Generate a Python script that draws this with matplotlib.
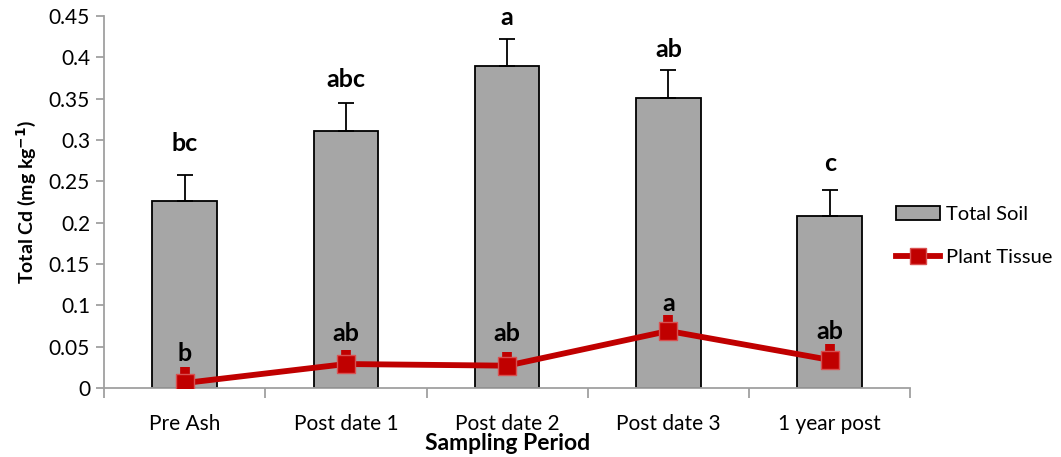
import numpy as np
import matplotlib.pyplot as plt
from matplotlib.patches import Patch
from matplotlib.lines import Line2D

plt.rcParams['font.family'] = ['Lato', 'DejaVu Sans']

periods = ['Pre Ash', 'Post date 1', 'Post date 2', 'Post date 3', '1 year post']
soil = [0.226, 0.311, 0.389, 0.351, 0.208]
soil_err = [0.032, 0.034, 0.033, 0.034, 0.032]
soil_letters = ['bc', 'abc', 'a', 'ab', 'c']
soil_letter_y = [0.296, 0.373, 0.448, 0.410, 0.271]
tissue = [0.006, 0.029, 0.027, 0.069, 0.034]
tissue_err = [0.019, 0.017, 0.017, 0.019, 0.019]
tissue_letters = ['b', 'ab', 'ab', 'a', 'ab']
tissue_letter_y = [0.042, 0.066, 0.066, 0.102, 0.068]

red = '#C00000'
axis_grey = '#A0A0A0'

fig = plt.figure(figsize=(10.61, 4.57), dpi=100)
ax = fig.add_axes([0.098, 0.151, 0.760, 0.814])

x = np.arange(len(periods))
ax.bar(x, soil, width=0.4, color='#A6A6A6', edgecolor='black', linewidth=1.3,
       yerr=[np.zeros(len(soil)), soil_err],
       error_kw=dict(ecolor='black', elinewidth=1.3, capsize=6, capthick=1.3),
       zorder=2)

ax.errorbar(x, tissue, yerr=[np.zeros(len(tissue)), tissue_err], fmt='none',
            ecolor=red, elinewidth=7, capsize=0, zorder=3)
ax.plot(x, tissue, color=red, linewidth=4.2, marker='s', markersize=12.5,
        markerfacecolor=red, markeredgecolor='#D95050', markeredgewidth=1,
        zorder=4)

for i in range(len(periods)):
    ax.text(x[i], soil_letter_y[i], soil_letters[i], ha='center', va='center',
            fontsize=18, fontweight='bold', clip_on=False)
    ax.text(x[i], tissue_letter_y[i], tissue_letters[i], ha='center', va='center',
            fontsize=18, fontweight='bold')

ax.set_xlim(-0.5, len(periods) - 0.5)
ax.set_ylim(0, 0.45)
ax.set_yticks(np.arange(0, 0.451, 0.05))
ax.set_yticklabels(['0', '0.05', '0.1', '0.15', '0.2', '0.25', '0.3', '0.35', '0.4', '0.45'])
ax.set_xticks(x)
ax.set_xticklabels(periods)
ax.set_xticks(np.arange(-0.5, len(periods)), minor=True)
ax.tick_params(axis='x', which='major', length=0, pad=19, labelsize=15)
ax.tick_params(axis='x', which='minor', length=7, color=axis_grey, width=1.3)
ax.tick_params(axis='y', length=6, color=axis_grey, width=1.3, labelsize=15, pad=4)

for s in ['top', 'right']:
    ax.spines[s].set_visible(False)
for s in ['left', 'bottom']:
    ax.spines[s].set_color(axis_grey)
    ax.spines[s].set_linewidth(1.3)

ax.set_xlabel('Sampling Period', fontsize=16.5, fontweight='bold', labelpad=-1)
ax.set_ylabel('Total Cd (mg kg$^{\\mathbf{-1}}$)', fontsize=14, fontweight='bold', labelpad=8)

handles = [Patch(facecolor='#A6A6A6', edgecolor='black', linewidth=1.3, label='Total Soil'),
           Line2D([0], [0], color=red, linewidth=4.2, marker='s', markersize=12,
                  markerfacecolor=red, markeredgecolor='#D95050', label='Plant Tissue')]
fig.legend(handles=handles, loc='upper left', bbox_to_anchor=(0.833, 0.575),
           frameon=False, fontsize=14.5, handlelength=2.2, labelspacing=1.25,
           handletextpad=0.3, borderaxespad=0.2)

fig.savefig('out.png', dpi=100)
